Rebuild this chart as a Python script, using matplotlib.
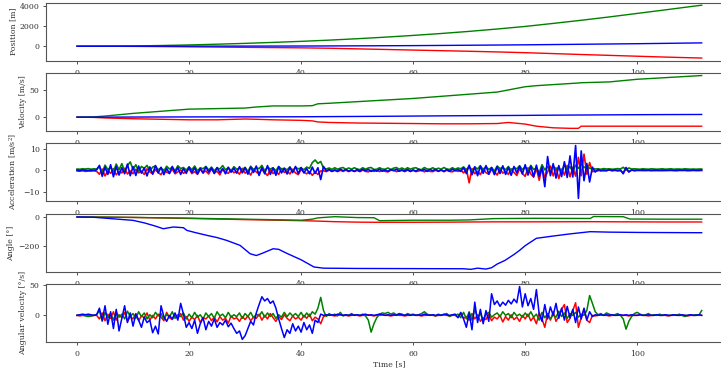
import matplotlib
matplotlib.use('Agg')
import matplotlib.pyplot as plt
import numpy as np

plt.rcParams['font.family'] = ['DejaVu Serif']
plt.rcParams['mathtext.fontset'] = 'dejavuserif'

# ---- smooth signals (key samples) ----
pos_t = [0, 5, 10, 15, 20, 25, 30, 35, 40, 45, 50, 55, 60, 65, 70, 75, 80, 85, 90, 95, 100, 105, 110, 111.5]
pos_x = [0, -3, -15, -35, -60, -85, -110, -135, -160, -200, -260, -320, -380, -440, -500, -565, -640, -730, -820,
         -905, -990, -1075, -1150, -1170]
pos_y = [0, 5, 28, 70, 128, 200, 283, 378, 483, 603, 743, 898, 1070, 1260, 1470, 1705, 1960, 2260, 2570, 2900,
         3250, 3600, 3960, 4060]
pos_z = [0, 0, 1, 3, 5, 9, 13, 16, 20, 28, 38, 48, 60, 78, 98, 118, 140, 166, 194, 222, 250, 284, 320, 330]

vel_t = [0, 3, 5, 10, 15, 20, 25, 30, 32, 35, 40, 42, 43, 45, 50, 55, 60, 65, 70, 75, 77, 80, 82, 85, 88, 89.5,
         90, 95, 100, 105, 111.5]
vel_x = [0, -0.5, -1.5, -3, -4, -5, -5, -3.5, -4, -5, -6, -7, -9, -10, -11, -11.5, -12, -12.5, -12.5, -12, -10,
         -13, -17, -20, -21, -21, -17, -17, -17, -17, -17]
vel_y = [0, 0.5, 2, 7, 11, 15, 16, 17, 19, 21, 21, 21.5, 25, 26, 29, 32, 35, 39, 43, 47, 51, 57, 59, 61, 63, 64,
         64.5, 66, 71, 74, 78]
vel_z = [0, 0, 0, 0.2, 0.3, 0.4, 0.5, 0.5, 0.5, 0.6, 0.7, 0.8, 0.9, 1, 1.3, 1.6, 2, 2.4, 2.7, 3, 3.1, 3.3, 3.5,
         3.7, 3.9, 4, 4, 4.3, 4.6, 4.8, 5]

ang_t_z = [0, 3, 6, 10, 12, 14, 15.4, 17.2, 19, 19.6, 21, 23.2, 25, 26.7, 29.1, 30.9, 32, 33, 35, 36, 37.5, 40,
           42.3, 44, 50, 60, 69, 70.3, 71.5, 72, 73, 74, 75, 76.4, 78, 79, 80, 82, 84.5, 88, 91.6, 95, 100, 105,
           111.5]
ang_z = [0, -2, -11, -23, -40, -62, -80, -68, -73, -91, -105, -125, -140, -159, -193, -250, -262, -248, -216, -220,
         -248, -291, -340, -348, -350, -351, -352, -356, -348, -350, -354, -345, -320, -295, -255, -227, -195, -145,
         -132, -115, -100, -103, -105, -106, -107]
ang_t_xy = [0, 5, 10, 20, 30, 40, 42, 43, 46, 50, 53, 54, 60, 66.6, 70, 74.4, 81.5, 91.6, 92.2, 97.5, 98.7, 105,
            111.5]
ang_x = [0, -1, -3, -10, -18, -25, -27, -28, -32, -35, -36, -36, -36, -35, -34, -33, -33, -32, -32, -33, -33, -34, -34]
ang_y = [0, -1, -3, -8, -15, -22, -15, -6, 2, -4, -5, -25, -22, -22, -20, -11, -9, -10, 3, 2, -14, -15, -15]

# ---- noisy signals, one sample every 0.5 s ----
acc_x = [-0.3, -0.4, -0.2, -0.5, -0.3, -0.4, -0.2, -0.5, -1.8, 0.6, -2.6, -0.2, -1.4, 0.8, -2.1, -0.5, -1.2, 0.9, -1.7, -0.3,
         -1.6, 0.5, -1.2, -0.4, -1.9, 0.7, -0.8, -1.5, 0.3, -1.1, -2.0, 0.4, -0.9, -1.3, 0.6, -1.6, -0.7, 0.2, -1.4, -0.5,
         0.8, -1.5, -0.6, -1.8, 0.5, -1.0, -0.3, -1.7, 0.7, -1.2, -0.4, -2.1, 0.6, -0.9, -1.4, 0.4, -1.1, -0.5, -1.8, 0.9,
         -1.3, -0.4, -2.2, 0.5, -0.8, -1.6, 0.7, -1.1, -2.4, 0.3, -1.5, -0.6, -1.9, 0.8, -1.0, -0.3, -1.7, 0.5, -1.2, -2.0,
         0.4, -0.9, -1.6, -0.6, -2.3, -0.8, -1.9, -0.3, -0.2, -0.6, 0.1, -0.5, 0.0, -0.6, 0.0, -0.5, 0.1, -0.6, 0.0, -0.5,
         -0.1, -0.6, 0.1, -0.5, -0.7, 0.0, -0.5, 0.1, -0.6, 0.0, -0.5, -0.7, 0.0, 0.1, -0.6, -0.3, 0.0, -0.6, 0.1, -0.5,
         0.0, -0.6, -0.3, 0.1, -0.7, 0.0, -0.5, -0.6, 0.0, -0.5, 0.1, -0.6, 0.0, -0.5, -0.7, 0.0, -0.5, 0.1, -1.2, 0.6,
         -5.8, 0.8, -1.6, -0.4, -2.0, 0.9, -1.1, -1.8, 0.5, -0.7, -2.2, 0.6, -1.3, -0.5, -1.9, 0.7, -1.0, -2.4, 0.8, -1.5,
         -2.8, 1.2, -1.7, -3.1, 0.9, -4.6, 1.5, -3.5, -0.8, 2.0, -2.6, 1.1, -3.8, 0.6, -2.2, 2.3, -3.0, 1.4, -2.7, 6.0,
         -2.5, 7.5, -1.8, 3.6, -0.6, -0.4, -0.2, 0.1, -0.3, -0.1, 0.2, -0.2, -0.1, 0.1, -0.2, -0.9, 0.5, -0.6, 0.1, -0.2,
         -0.1, 0.1, -0.2, 0.0, -0.1, 0.1, -0.2, -0.1, 0.0, -0.2, -0.1, 0.1, -0.1, 0.0, -0.2, -0.1, 0.1, -0.1, -0.2, 0.0,
         -0.1, 0.0, -0.1, -0.1]
acc_y = [0.6, 0.5, 0.7, 0.6, 0.8, 0.5, 0.7, 0.6, 1.8, -1.2, 2.4, 0.3, 1.5, -0.8, 2.9, 0.2, 3.1, -0.5, 2.2, 3.9,
         0.4, 2.6, -0.6, 1.8, 0.9, 2.3, -0.3, 1.5, 2.0, 0.2, 1.2, -0.4, 1.9, 0.6, 1.4, -0.2, 2.1, 0.8, 1.3, 0.1,
         1.6, 0.3, 2.0, -0.3, 1.2, 0.7, 1.8, 0.1, 1.5, -0.2, 1.1, 0.6, 2.2, 0.2, 1.3, -0.4, 1.7, 0.5, 1.0, 0.3,
         1.4, -0.5, 1.9, 0.4, 1.1, 0.8, 2.3, -0.3, 1.5, 0.6, 1.2, -0.2, 1.8, 0.5, 1.0, 0.2, 1.6, -0.4, 1.3, 0.7,
         1.1, 0.3, 1.5, 0.9, 3.6, 4.8, 3.2, 4.1, 1.0, 0.6, 1.1, 0.4, 1.2, 0.5, 1.0, 1.3, 0.4, 1.1, 0.5, 1.2,
         0.6, 0.3, 1.2, 0.5, 1.1, 1.3, 0.4, 0.5, 1.2, 0.6, 0.5, 1.1, 0.3, 1.0, 1.3, 0.5, 1.1, 0.4, 1.2, 0.5,
         1.0, 1.2, 0.5, 0.3, 1.3, 0.6, 0.5, 1.2, 0.4, 1.0, 0.5, 1.3, 0.6, 0.4, 1.2, 0.5, 1.1, 0.7, 1.6, 0.2,
         1.9, -0.4, 1.5, 0.6, 2.2, 0.1, 1.7, 0.4, 1.3, -0.3, 2.0, 0.8, 1.4, 0.2, 1.8, -0.2, 1.2, 0.7, 2.1, 0.3,
         1.6, -0.5, 2.3, 0.4, 1.1, -1.2, 2.6, 0.2, 1.8, -0.8, 2.0, 0.5, 1.4, -1.0, 2.8, 0.3, 1.7, -0.6, 2.4, 0.9,
         3.0, 1.2, 2.2, 0.9, 0.8, 0.6, 0.7, 0.5, 0.8, 0.6, 0.7, 0.5, 0.6, 0.8, 0.6, 1.4, 0.3, 1.1, 0.6, 0.7,
         0.6, 0.5, 0.7, 0.6, 0.5, 0.7, 0.6, 0.5, 0.6, 0.7, 0.5, 0.6, 0.7, 0.5, 0.6, 0.6, 0.5, 0.7, 0.6, 0.5,
         0.6, 0.5, 0.6, 0.6]
acc_z = [0.1, -0.1, 0.2, 0.0, -0.1, 0.1, 0.0, 0.2, 2.3, -2.8, 1.5, -1.9, 2.6, -3.0, 1.8, -2.2, 1.2, -1.6, 2.9, -2.5,
         1.7, -2.4, 2.0, -1.3, 1.1, -2.6, 1.6, -1.8, 2.2, -1.2, 1.4, -2.0, 0.9, -1.5, 1.8, -1.1, 1.3, -1.9, 0.8, -1.4,
         1.5, -1.0, 1.2, -1.7, 0.9, -1.3, 1.6, -0.8, 1.1, -1.5, 1.3, -1.1, 0.8, -1.6, 1.4, -0.9, 1.0, -1.3, 1.7, -1.2,
         1.2, -1.8, 1.5, -1.0, 2.0, -2.4, 1.3, -1.6, 2.2, -1.9, 1.1, -2.3, 1.7, -1.2, 0.9, -1.7, 1.4, -1.1, 1.8, -1.5,
         1.3, -1.2, 0.8, -1.6, 1.5, -1.4, 1.2, -4.3, 1.8, -0.3, 0.4, -0.5, 0.2, -0.4, 0.5, -0.2, 0.4, -0.4, 0.2, -0.5,
         0.4, -0.4, 0.5, -0.2, 0.4, -0.5, 0.2, -0.4, 0.5, -0.4, 0.2, -0.5, 0.4, -0.2, 0.5, -0.4, 0.2, -0.4, 0.4, -0.5,
         0.2, -0.4, 0.5, -0.2, 0.4, -0.5, 0.4, -0.2, 0.5, -0.4, 0.2, -0.5, 0.4, -0.4, 0.5, -0.2, 0.4, -0.5, 1.2, -1.5,
         2.4, -2.1, 1.6, -2.5, 1.9, -1.4, 2.2, -1.8, 1.3, -2.0, 1.7, -1.5, 2.1, -1.9, 1.4, -2.3, 1.8, -1.2, 2.0, -1.7,
         2.6, -2.2, 1.9, -3.0, 2.4, -2.8, 1.5, -7.6, 6.4, -2.5, 3.1, -3.6, 2.2, -2.9, 4.0, -3.3, 6.7, -3.1, 11.5, -13.0,
         9.0, -4.8, 3.2, -5.4, 1.5, -0.8, 0.4, -0.3, 0.2, -0.2, 0.3, -0.1, 0.2, -0.3, 0.1, -1.6, 1.3, -0.8, 0.2, -0.1,
         0.1, -0.1, 0.2, -0.1, 0.1, -0.2, 0.1, 0.0, -0.1, 0.1, 0.0, -0.1, 0.1, -0.1, 0.0, 0.1, -0.1, 0.1, 0.0, -0.1,
         0.1, -0.1, 0.0, 0.1]

gyr_x = [0, -1, 0, 1, 0, -1, 0, 0, -6, 4, -9, 2, -5, 6, -8, 1, -4, 5, -10, -2,
         -6, 3, -9, -1, -4, 4, -8, 0, -6, 2, -3, -9, 5, -4, -7, 1, -5, 3, -8, -2,
         -10, -3, -7, 0, -12, -4, -6, -1, -9, -3, -11, -2, -8, -5, -13, -1, -6, -4, -10, -2,
         -7, -1, -9, -3, -5, 2, -8, 0, -6, 3, -4, -10, -2, -7, 1, -5, -9, -1, -6, -3,
         -8, 0, -5, 2, -9, -3, -6, -14, -2, 0, 1, 0, -1, 0, 1, 0, 0, -1, 0, 1,
         0, -1, 0, 0, 1, 0, -1, 0, 0, 1, 0, 0, -1, 0, 1, 0, 0, -1, 0, 0,
         1, 0, 0, -1, 0, 0, 1, 0, -1, 0, 0, 1, 0, -1, 0, 0, -3, 2, -5, -2,
         -8, 3, -6, 1, -10, -4, -7, 2, -9, -3, -6, 0, -11, -2, -8, 1, -7, -3, -10, 0,
         -6, 2, -9, -3, -14, 4, -6, -20, 3, -8, 6, -10, -2, 10, 18, -12, -5, 8, 21, -20,
         -4, 10, -8, -12, 0, -1, 0, 1, 0, 0, -1, 0, 0, 1, 0, 0, 0, -1, 0, 0,
         0, 1, 0, 0, -1, 0, 0, 1, 0, 0, 0, -1, 0, 0, 1, 0, 0, 0, -1, 0,
         0, 0, 1, 0]
gyr_y = [0, 1, 0, -1, -2, -1, 0, 1, 8, -10, 5, -4, 3, -8, 6, -3, 2, -6, 7, -2,
         3, -5, 6, -2, 4, -6, 1, -4, 5, -1, 3, -7, 2, -3, 6, -5, 1, -2, 4, -6,
         2, -4, 5, -3, 1, -6, 4, -2, 3, -5, 6, -1, 2, -4, 5, -3, 1, -2, 4, -5,
         3, -2, 5, -4, 2, -1, 6, -3, 4, -2, 3, -5, 1, -3, 5, -2, 4, -1, 3, -2,
         5, -3, 4, -2, 6, 2, 12, 30, 8, -2, 3, 0, 2, -1, 5, -1, 1, 0, 3, 0,
         1, 0, 2, -1, -8, -28, -14, -4, 2, 4, 3, 5, 2, 4, 1, 3, 2, 0, 3, 1,
         2, 0, 1, 3, 6, 2, 0, 1, -1, 2, 0, 1, 3, -2, 1, 0, 2, -4, 5, -6,
         6, -8, 10, -4, 3, -9, 2, 5, -3, 1, 4, -2, 6, 0, 3, -4, 5, -1, 2, -3,
         4, -2, 6, -3, 2, -8, 5, -4, 3, -6, 1, -3, 7, -2, 4, -5, 3, 0, 5, -3,
         2, 0, 8, 33, 20, 6, 1, 3, 0, 4, 2, 0, 1, 3, 0, -6, -23, -10, -2, 3,
         5, 2, 0, 1, 3, 0, 1, 0, 2, 0, 1, 0, 0, 1, 0, 2, 0, -2, 0, 1,
         0, 1, 0, 8]
gyr_z = [0, 1, 2, 1, 2, 1, 0, 1, 12, -8, 16, -15, 6, -22, 10, -26, -5, 16, -12, 4,
         -18, 2, -8, -20, -3, -12, -8, -29, -18, -31, 16, -2, -10, 0, -6, 4, -8, 20, 2, -20,
         -12, -22, -8, -30, -14, -4, -24, -10, -18, -6, -20, -12, -16, -8, -19, -13, -22, -30, -26, -40,
         -34, -22, -10, -16, 4, 18, 31, 24, 28, 20, 24, 12, -6, -22, -37, -24, -30, -14, -26, -18,
         -28, -12, -24, -16, -30, -8, -12, 2, 0, 1, 0, 1, 0, 2, 1, 0, 1, 0, 1, 0,
         1, 0, 1, 2, 0, 1, 0, 1, 2, 1, 0, 1, 0, 1, 0, 2, 1, 0, 1, 0,
         1, 0, 1, 0, 2, 1, 0, 1, 0, 1, 0, 2, 1, 0, 1, 2, -4, 5, -6, -20,
         4, -24, 22, -12, 10, -14, 8, -10, 36, 18, 24, 15, 22, 17, 25, 19, 27, 21, 48, 14,
         36, 16, 28, 10, 43, 2, -10, 18, -6, 14, 0, 20, -5, 12, -8, 15, -4, 10, -12, 14,
         -6, 12, -8, 6, -2, 1, 0, 1, 0, 1, 0, 1, 0, 0, 1, 0, 1, 0, 1, 0,
         0, 1, 0, 0, 1, 0, 0, 1, 0, 0, 1, 0, 0, 1, 0, 0, 1, 0, 0, 1,
         0, 0, 1, 0]
fast_t = np.arange(len(acc_x)) * 0.5

ylabels = ['Position [m]', 'Velocity [m/s]', 'Acceleration [m/s$^2$]', 'Angle [°]', 'Angular velocity [°/s]']
yticks = [[0, 2000, 4000], [0, 50], [-10, 0, 10], [-200, 0], [0, 50]]

fig = plt.figure(figsize=(7.21, 3.70), dpi=100)
left, width, height = 0.0635, 0.953, 0.157
bottoms = [0.836, 0.646, 0.4568, 0.2649, 0.0757]
axes = [fig.add_axes([left, b, width, height]) for b in bottoms]

# position
axes[0].plot(pos_t, pos_x, 'r', lw=1)
axes[0].plot(pos_t, pos_y, 'g', lw=1)
axes[0].plot(pos_t, pos_z, 'b', lw=1)
# velocity
axes[1].plot(vel_t, vel_x, 'r', lw=1)
axes[1].plot(vel_t, vel_y, 'g', lw=1)
axes[1].plot(vel_t, vel_z, 'b', lw=1)
# acceleration
axes[2].plot(fast_t, acc_x, 'r', lw=1.2)
axes[2].plot(fast_t, acc_y, 'g', lw=1.2)
axes[2].plot(fast_t, acc_z, 'b', lw=1.2)
# angle
axes[3].plot(ang_t_xy, ang_x, 'r', lw=1)
axes[3].plot(ang_t_xy, ang_y, 'g', lw=1)
axes[3].plot(ang_t_z, ang_z, 'b', lw=1)
# angular velocity
axes[4].plot(fast_t, gyr_x, 'r', lw=1.1)
axes[4].plot(fast_t, gyr_y, 'g', lw=1.1)
axes[4].plot(fast_t, gyr_z, 'b', lw=1.1)

for ax, lab, yt in zip(axes, ylabels, yticks):
    ax.set_ylabel(lab, fontsize=5.6, color='#333333', labelpad=2)
    ax.set_yticks(yt)
    ax.set_xticks([0, 20, 40, 60, 80, 100])
    ax.tick_params(labelsize=5.6, colors='#333333', length=2.5, width=0.6)
    ax.tick_params(axis='x', pad=3.2)
    ax.tick_params(axis='y', pad=2)
    for s in ax.spines.values():
        s.set_color('#555555')
        s.set_linewidth(0.8)

axes[4].set_xlabel('Time [s]', fontsize=5.6, color='#333333', labelpad=2)

fig.savefig('out.png', dpi=100)
